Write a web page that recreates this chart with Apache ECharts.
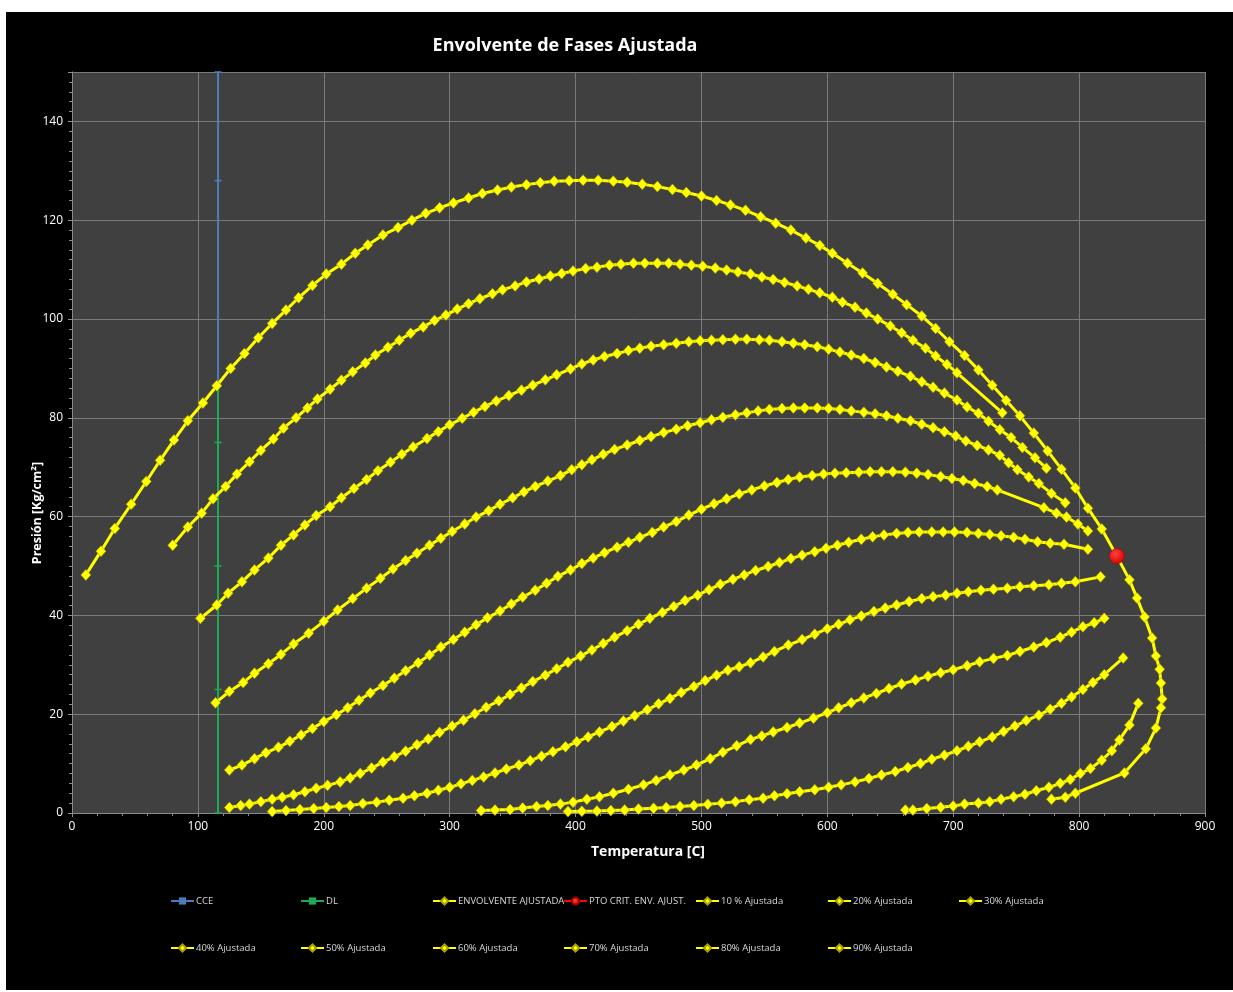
<!DOCTYPE html>
<html>
<head>
<meta charset="utf-8">
<script src="https://cdn.jsdelivr.net/npm/echarts@6/dist/echarts.min.js"></script>
<style>
html,body{margin:0;padding:0;background:#ffffff;}
#chart{position:absolute;left:6px;top:12px;width:1227px;height:978px;background:#000000;}
</style>
</head>
<body>
<div id="chart"></div>
<script>
// ---- Data (Temperatura [C], Presión [Kg/cm2]) ----
const xTicks = [0,100,200,300,400,500,600,700,800,900];
const yTicks = [0,20,40,60,80,100,120,140];

const cce = [[116,150],[116,128],[116,86.5]];
const dl = [[116,86.5],[116,75],[116,50],[116,25],[116,0]];

const envolvente = [[11,48.2],[23,53],[34,57.6],[47,62.5],[59,67.1],[70,71.4],[81,75.5],[92,79.4],[104,83],[115,86.5],[126,90],[137,93],[148,96.2],[159,99.1],[170,101.8],[180,104.3],[191,106.8],[202,109.1],[214,111.1],[225,113.3],[235,115],[247,117],[259,118.5],[270,120],[281,121.4],[292,122.5],[303,123.5],[315,124.5],[326,125.4],[338,126.1],[349,126.7],[361,127.2],[372,127.6],[383,127.9],[395,128],[406,128.1],[418,128.1],[430,127.9],[441,127.7],[453,127.3],[465,126.8],[477,126.2],[488,125.6],[500,124.9],[512,124],[523,123.1],[535,122],[547,120.7],[559,119.4],[571,118],[583,116.4],[594,114.9],[604,113.3],[616,111.3],[628,109.3],[640,107.2],[652,105],[663,102.9],[675,100.6],[686,98.1],[697,95.4],[709,92.6],[720,89.7],[731,86.6],[742,83.5],[753,80.4],[764,76.9],[775,73.3],[786,69.6],[797,65.8],[807,61.7],[818,57.5],[830,52],[840,47.2],[846,43.5],[852,39.7],[858,35.4],[861,31.8],[864,29.1],[865,26.3],[866,23.1],[865,21.3],[861,17.2],[853,13],[836,8.1],[797,4],[789,3.2],[778,2.8]];

const ptoCritico = [[830,52]];

const q10 = [[80,54.2],[92,57.9],[103,60.7],[112,63.6],[122,66.1],[131,68.6],[141,71.1],[150,73.4],[160,75.7],[168,77.9],[178,80],[187,82],[195,83.8],[205,85.8],[214,87.6],[223,89.3],[233,91.1],[241,92.7],[251,94.3],[260,95.7],[269,97.1],[279,98.4],[288,99.7],[297,100.8],[306,102],[315,103.1],[324,104.1],[334,105.1],[342,105.9],[352,106.7],[361,107.5],[371,108.1],[380,108.7],[389,109.2],[398,109.7],[408,110.2],[417,110.5],[427,110.9],[436,111.1],[446,111.3],[455,111.3],[465,111.3],[474,111.3],[483,111.1],[492,110.9],[501,110.7],[511,110.3],[520,109.9],[529,109.5],[539,109.1],[548,108.5],[557,108],[566,107.4],[576,106.7],[585,106],[594,105.3],[604,104.4],[612,103.4],[622,102.4],[631,101.2],[640,100],[650,98.6],[659,97.2],[668,95.7],[678,94.1],[686,92.5],[695,90.8],[703,89.1],[739,81]];

const q20 = [[102,39.4],[115,42.1],[124,44.5],[135,46.8],[145,49.2],[156,51.6],[166,54.2],[176,56.3],[185,58.3],[194,60.2],[205,62],[214,63.8],[224,65.7],[234,67.5],[243,69.3],[253,71],[262,72.6],[271,74.1],[282,75.8],[291,77.2],[300,78.6],[310,79.9],[319,81.1],[328,82.3],[337,83.4],[347,84.5],[357,85.6],[366,86.6],[376,87.7],[385,88.7],[396,89.9],[405,90.9],[414,91.7],[423,92.4],[433,93],[442,93.6],[451,94.1],[460,94.5],[470,94.8],[480,95.1],[490,95.4],[499,95.6],[508,95.7],[517,95.8],[527,95.9],[536,95.9],[546,95.8],[554,95.7],[564,95.4],[573,95.1],[582,94.8],[592,94.4],[601,93.9],[610,93.3],[619,92.7],[629,92],[638,91.2],[647,90.3],[656,89.4],[666,88.4],[675,87.3],[684,86.2],[693,85],[703,83.6],[711,82.2],[720,80.9],[728,79.3],[737,77.6],[746,76],[755,74],[765,71.9],[774,69.8]];

const q30 = [[114,22.3],[125,24.6],[136,26.4],[145,28.3],[156,30.2],[166,32.1],[176,34.2],[188,36.4],[200,38.8],[211,41.1],[223,43.4],[234,45.5],[245,47.5],[255,49.4],[265,51.1],[274,52.6],[284,54.2],[293,55.6],[302,57],[312,58.5],[321,59.9],[331,61.2],[340,62.5],[350,63.8],[359,65],[368,66.1],[378,67.2],[388,68.3],[397,69.5],[405,70.5],[413,71.5],[422,72.6],[431,73.6],[441,74.5],[451,75.4],[460,76.2],[470,77],[480,77.7],[489,78.4],[499,79],[508,79.6],[517,80.1],[527,80.6],[536,81],[545,81.4],[554,81.7],[564,81.9],[573,82],[582,82],[592,82],[601,81.9],[610,81.7],[619,81.4],[629,81.1],[638,80.8],[647,80.4],[656,79.9],[666,79.4],[675,78.7],[684,78],[693,77.2],[702,76.3],[710,75.3],[719,74.4],[728,73.5],[737,72.4],[744,70.9],[751,69.5],[760,68],[768,66.7],[778,64.7],[789,62.8]];

const q40 = [[125,8.7],[135,9.7],[145,11],[154,12.2],[164,13.3],[173,14.5],[182,15.8],[191,17.1],[200,18.5],[210,19.9],[219,21.3],[228,22.8],[237,24.3],[247,25.8],[256,27.3],[265,28.8],[275,30.4],[284,32],[293,33.6],[303,35.1],[312,36.6],[321,38.1],[330,39.5],[340,40.9],[349,42.3],[358,43.7],[368,45.1],[377,46.5],[386,47.9],[396,49.2],[405,50.5],[414,51.6],[423,52.7],[433,53.8],[442,54.8],[451,55.8],[461,56.8],[470,57.9],[480,59],[490,60.3],[500,61.5],[510,62.6],[520,63.6],[530,64.6],[540,65.4],[550,66.2],[560,66.9],[569,67.5],[578,68],[588,68.3],[597,68.6],[606,68.8],[615,68.9],[625,69],[634,69.1],[643,69.1],[652,69.1],[662,69],[671,68.8],[680,68.5],[690,68.1],[699,67.7],[708,67.3],[717,66.7],[727,66.1],[735,65.4],[772,61.8],[782,60.7],[790,59.9],[799,58.5],[807,57.1]];

const q50 = [[125,1.1],[134,1.5],[141,1.8],[150,2.3],[159,2.8],[167,3.2],[176,3.7],[185,4.3],[194,5],[203,5.6],[213,6.3],[221,7.1],[229,8],[238,9.1],[247,10.3],[256,11.4],[265,12.5],[274,13.8],[283,15],[292,16.3],[302,17.6],[311,18.8],[320,20.1],[329,21.4],[339,22.7],[348,24],[357,25.3],[366,26.6],[376,27.9],[385,29.2],[394,30.5],[404,31.8],[413,33],[422,34.3],[431,35.6],[441,36.9],[450,38.2],[459,39.4],[469,40.6],[478,41.8],[487,43],[497,44.1],[506,45.2],[515,46.3],[525,47.3],[534,48.2],[543,49.1],[553,49.9],[562,50.7],[571,51.5],[580,52.2],[590,52.9],[599,53.6],[608,54.2],[617,54.8],[627,55.4],[636,55.9],[645,56.3],[655,56.6],[664,56.8],[673,56.9],[683,56.9],[692,56.9],[701,56.9],[711,56.8],[720,56.6],[729,56.4],[738,56.1],[748,55.8],[757,55.4],[767,54.9],[777,54.6],[788,54.4],[807,53.4]];

const q60 = [[159,0.3],[170,0.5],[181,0.7],[192,0.9],[202,1.1],[212,1.3],[221,1.5],[231,1.9],[242,2.2],[252,2.6],[263,3],[272,3.5],[282,4],[291,4.6],[300,5.2],[309,5.9],[318,6.6],[327,7.3],[336,8.1],[345,8.9],[355,9.7],[364,10.6],[373,11.5],[382,12.4],[392,13.4],[401,14.4],[410,15.4],[419,16.4],[429,17.5],[438,18.6],[447,19.7],[457,20.9],[466,22.1],[475,23.2],[484,24.4],[494,25.6],[503,26.8],[512,27.9],[521,28.9],[530,29.6],[539,30.4],[549,31.6],[558,32.7],[569,34],[580,35.1],[590,36.2],[600,37.3],[609,38.2],[618,39.1],[627,39.9],[637,40.8],[646,41.5],[655,42.1],[665,42.8],[675,43.4],[684,43.8],[694,44.1],[703,44.5],[712,44.8],[722,45.1],[732,45.3],[743,45.5],[753,45.8],[764,46],[776,46.2],[786,46.5],[797,46.8],[817,47.8]];

const q70 = [[325,0.5],[336,0.6],[348,0.7],[358,1],[369,1.3],[378,1.5],[388,1.8],[398,2.2],[409,2.8],[419,3.3],[430,4],[442,4.8],[454,5.7],[464,6.6],[475,7.7],[486,8.7],[496,9.7],[507,11],[517,12.3],[528,13.6],[539,14.9],[548,15.6],[557,16.4],[568,17.3],[578,18.2],[589,19.2],[600,20.3],[609,21.3],[619,22.3],[629,23.3],[639,24.2],[649,25.2],[659,26.1],[670,26.9],[680,27.7],[690,28.4],[700,29],[711,29.8],[721,30.6],[732,31.3],[743,31.9],[753,32.7],[764,33.6],[774,34.5],[785,35.6],[794,36.6],[803,37.7],[812,38.5],[820,39.4]];

const q80 = [[394,0.3],[405,0.35],[417,0.4],[428,0.5],[439,0.6],[450,0.8],[462,0.95],[472,1.1],[483,1.3],[494,1.5],[505,1.75],[516,2],[527,2.3],[538,2.7],[549,3],[558,3.5],[568,3.9],[578,4.3],[590,4.7],[601,5.2],[611,5.7],[622,6.3],[633,7],[643,7.7],[654,8.4],[664,9.2],[674,10],[683,10.9],[693,11.7],[703,12.6],[712,13.5],[721,14.4],[731,15.4],[740,16.5],[749,17.6],[758,18.7],[768,19.8],[777,21],[786,22.2],[794,23.5],[803,25],[811,26.4],[820,28],[835,31.4]];

const q90 = [[662,0.6],[668,0.6],[679,0.9],[690,1.15],[700,1.4],[709,1.8],[720,2],[729,2.3],[738,2.8],[748,3.3],[757,3.8],[766,4.5],[776,5.2],[785,6],[793,6.8],[801,8],[809,9],[818,10.7],[826,12.6],[832,14.8],[840,17.8],[847,22.2]];

const seriesNames = ['CCE','DL','ENVOLVENTE AJUSTADA','PTO CRIT. ENV. AJUST.','10 % Ajustada','20% Ajustada','30% Ajustada','40% Ajustada','50% Ajustada','60% Ajustada','70% Ajustada','80% Ajustada','90% Ajustada'];
const qualityData = [q10,q20,q30,q40,q50,q60,q70,q80,q90];

// ---- Chart ----
const chart = echarts.init(document.getElementById('chart'), null, {renderer:'canvas'});
const FONT = '"Open Sans", "Noto Sans", sans-serif';
const YELLOW = '#ffff00';

function yellowSeries(name, data) {
  return {
    name: name, type: 'line', data: data, z: 3,
    symbol: 'diamond', symbolSize: [10, 11], showSymbol: true,
    lineStyle: {color: YELLOW, width: 3},
    itemStyle: {color: YELLOW, borderColor: '#a9a200', borderWidth: 0.6},
    emphasis: {disabled: true}, animation: false
  };
}

const series = [
  {name: seriesNames[0], type: 'line', data: cce, z: 2,
   symbol: 'rect', symbolSize: [7, 1.6],
   lineStyle: {color: '#4a7ebb', width: 2}, itemStyle: {color: '#4a7ebb'}, animation: false},
  {name: seriesNames[1], type: 'line', data: dl, z: 2,
   symbol: 'rect', symbolSize: [7, 1.6],
   lineStyle: {color: '#1eaa55', width: 2}, itemStyle: {color: '#1eaa55'}, animation: false},
  yellowSeries(seriesNames[2], envolvente),
  {name: seriesNames[3], type: 'line', data: ptoCritico, z: 5,
   symbol: 'circle', symbolSize: 15,
   lineStyle: {color: '#ff0000', width: 3},
   itemStyle: {color: {type: 'radial', x: 0.4, y: 0.35, r: 0.7,
     colorStops: [{offset: 0, color: '#ff4040'}, {offset: 1, color: '#d40000'}]},
     borderColor: '#a00000', borderWidth: 0.5},
   animation: false}
];
qualityData.forEach((d, i) => series.push(yellowSeries(seriesNames[4 + i], d)));

// Legend layout (two rows, fixed columns)
const legendCols = [164, 294, 426, 557, 689, 821, 952];
const legendRows = [884, 931];
const legends = seriesNames.map((n, i) => {
  const row = i < 7 ? 0 : 1;
  const col = i < 7 ? i : i - 7;
  return {
    data: [n], left: legendCols[col], top: legendRows[row],
    padding: 0, itemGap: 0, itemWidth: 23, itemHeight: 9,
    selectedMode: false,
    textStyle: {color: '#d8d8d8', fontSize: 9.5, fontFamily: FONT, padding: [0, 0, 0, -3]}
  };
});

const option = {
  backgroundColor: '#000000',
  animation: false,
  grid: {left: 66, right: 28, top: 60, bottom: 177, show: true,
         backgroundColor: '#404040', borderWidth: 0},
  legend: legends,
  xAxis: {
    type: 'value', min: xTicks[0], max: xTicks[xTicks.length - 1], interval: 100,
    axisLine: {show: true, onZero: false, lineStyle: {color: '#8a8a8a', width: 1}},
    axisTick: {show: true, length: 4, lineStyle: {color: '#8a8a8a'}},
    minorTick: {show: true, splitNumber: 5, length: 3, lineStyle: {color: '#8a8a8a'}},
    axisLabel: {color: '#ffffff', fontSize: 12, fontFamily: FONT, margin: 8},
    splitLine: {show: true, lineStyle: {color: '#7a7a7a', width: 1}}
  },
  yAxis: {
    type: 'value', min: yTicks[0], max: 150, interval: 20,
    axisLine: {show: true, onZero: false, lineStyle: {color: '#8a8a8a', width: 1}},
    axisTick: {show: true, length: 4, lineStyle: {color: '#8a8a8a'}},
    minorTick: {show: true, splitNumber: 10, length: 3, lineStyle: {color: '#8a8a8a'}},
    axisLabel: {color: '#ffffff', fontSize: 12, fontFamily: FONT, margin: 9, showMaxLabel: false,
      formatter: v => (yTicks.indexOf(v) >= 0 ? String(v) : '')},
    splitLine: {show: true, lineStyle: {color: '#7a7a7a', width: 1}}
  },
  graphic: [
    {type: 'text', x: 559, y: 34, style: {text: 'Envolvente de Fases Ajustada', fill: '#ffffff',
      font: 'bold 18px ' + FONT, textAlign: 'center', textVerticalAlign: 'middle'}},
    {type: 'text', x: 642, y: 840, style: {text: 'Temperatura [C]', fill: '#ffffff',
      font: 'bold 14px ' + FONT, textAlign: 'center', textVerticalAlign: 'middle'}},
    {type: 'text', x: 31, y: 501, rotation: Math.PI / 2, style: {text: 'Presión [Kg/cm²]', fill: '#ffffff',
      font: 'bold 12.5px ' + FONT, textAlign: 'center', textVerticalAlign: 'middle'}}
  ],
  series: series
};
chart.setOption(option);
</script>
</body>
</html>
